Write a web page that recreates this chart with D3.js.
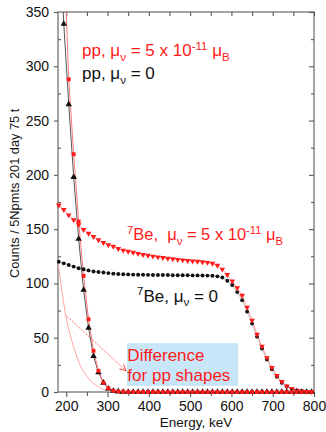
<!DOCTYPE html>
<html>
<head>
<meta charset="utf-8">
<script src="https://cdn.jsdelivr.net/npm/d3@7"></script>
<style>
  html, body { margin: 0; padding: 0; background: #fff; }
  svg { display: block; font-family: "Liberation Sans", Arial, Helvetica, sans-serif; }
</style>
</head>
<body>
<div id="chart"></div>
<script>
// energy bins, keV
const energy = [182, 194, 206, 218, 230, 242, 254, 266, 278, 290, 302, 314, 326, 338, 350, 362, 374, 386, 398, 410,
  422, 434, 446, 458, 470, 482, 494, 506, 518, 530, 542, 554, 566, 578, 590, 602, 614, 626, 638, 650,
  662, 674, 686, 698, 710, 722, 734, 746, 758, 770, 782, 794];

// pp, mu = 5e-11 (red squares)
const ppMag = [520, 410, 288, 219, 157, 107, 67, 38, 19.5, 8.5, 3.5, 1.2, 0.5, 0.2, 0, 0, 0, 0, 0, 0,
  0, 0, 0, 0, 0, 0, 0, 0, 0, 0, 0, 0, 0, 0, 0, 0, 0, 0, 0, 0,
  0, 0, 0, 0, 0, 0, 0, 0, 0, 0, 0, 0];
// pp, mu = 0 (black triangles)
const ppZero = [450, 339, 265, 198, 141, 94, 59, 33, 18, 8.5, 3, 1, 0.4, 0.1, 0, 0, 0, 0, 0, 0,
  0, 0, 0, 0, 0, 0, 0, 0, 0, 0, 0, 0, 0, 0, 0, 0, 0, 0, 0, 0,
  0, 0, 0, 0, 0, 0, 0, 0, 0, 0, 0, 0];
// 7Be, mu = 5e-11 (red down triangles)
const beMag = [172, 168, 163, 158.5, 154, 149.5, 146, 143, 140, 137.5, 135.5, 134, 132, 130.5, 129.5, 128.5, 127.5, 126.5, 125.8, 125,
  124.3, 123.7, 123, 122.5, 122, 121.5, 121, 120.6, 120.2, 119.8, 119.2, 118.5, 116.5, 113, 108, 102, 96, 89, 78, 66,
  53, 42, 31.5, 22.5, 15, 9.5, 5.5, 3, 1.5, 0.8, 0.4, 0.2];
// 7Be, mu = 0 (black dots)
const beZero = [120, 118.5, 117, 115.5, 114, 113, 112, 111, 110.5, 110, 109.5, 109, 108.7, 108.5, 108.3, 108.1, 108, 108, 107.9, 107.8,
  107.8, 107.7, 107.7, 107.6, 107.6, 107.5, 107.5, 107.4, 107.4, 107.3, 107.2, 107, 106.5, 105.5, 102.5, 98.5, 92, 84.5, 74, 63,
  51, 40, 30, 21, 14, 8.5, 5, 2.8, 1.5, 0.7, 0.3, 0.1];

// difference curve for pp shapes (thin pink line)
const diffEnergy = [180, 190, 200, 210, 220, 230, 240, 250, 260, 270, 280, 290, 300, 310, 320];
const diffValue = [120, 92, 68, 52, 39, 28, 20, 14.5, 10, 6.8, 4.3, 2.5, 1.2, 0.4, 0];

const xMajor = [200, 300, 400, 500, 600, 700, 800];
const xMinor = [250, 350, 450, 550, 650, 750];
const yMajor = [0, 50, 100, 150, 200, 250, 300, 350];
const yMinor = [25, 75, 125, 175, 225, 275, 325];

const W = 326, H = 432;
const x = d3.scaleLinear().domain([180, 800]).range([58, 314]);
const y = d3.scaleLinear().domain([0, 350]).range([392, 12]);
const RED = "#ff1a1a";

const svg = d3.select("#chart").append("svg").attr("width", W).attr("height", H);

svg.append("defs").append("clipPath").attr("id", "plot")
  .append("rect").attr("x", 58).attr("y", 12).attr("width", 256).attr("height", 380);

// annotation box behind data
svg.append("rect")
  .attr("x", x(347)).attr("y", y(45))
  .attr("width", x(616) - x(347)).attr("height", y(5.5) - y(45))
  .attr("fill", "#c7e7f8");

// frame + axes
const axisColor = "#5a5a5a";
svg.append("rect").attr("x", 58).attr("y", 12).attr("width", 256).attr("height", 380)
  .attr("fill", "none").attr("stroke", axisColor).attr("stroke-width", 1.1);

svg.append("g").attr("transform", `translate(0,${y(0)})`)
  .call(d3.axisBottom(x).tickValues(xMajor).tickSize(5).tickPadding(4).tickFormat(d3.format("d")));
svg.append("g").attr("transform", `translate(0,${y(0)})`)
  .call(d3.axisBottom(x).tickValues(xMinor).tickSize(4).tickFormat(""));
svg.append("g").attr("transform", `translate(${x(180)},0)`)
  .call(d3.axisLeft(y).tickValues(yMajor).tickSize(4).tickPadding(5).tickFormat(d3.format("d")));
svg.append("g").attr("transform", `translate(${x(180)},0)`)
  .call(d3.axisRight(y).tickValues(yMinor).tickSize(3).tickFormat(""));
svg.append("g").attr("transform", `translate(0,${y(350)})`)
  .call(d3.axisBottom(x).tickValues(xMajor.concat(xMinor)).tickSize(4).tickFormat(""));
svg.append("g").attr("transform", `translate(${x(800)},0)`)
  .call(d3.axisLeft(y).tickValues(yMajor).tickSize(5).tickFormat(""));
svg.append("g").attr("transform", `translate(${x(800)},0)`)
  .call(d3.axisLeft(y).tickValues(yMinor).tickSize(3).tickFormat(""));

svg.selectAll(".domain").remove();
svg.selectAll(".tick line").attr("stroke", axisColor).attr("stroke-width", 1.1);
svg.selectAll(".tick text").attr("fill", "#111").attr("font-size", 14)
  .attr("font-family", '"Liberation Sans", Arial, sans-serif');

// axis titles
svg.append("text").attr("x", x(514)).attr("y", 427).attr("text-anchor", "middle")
  .attr("font-size", 13.5).attr("fill", "#111").text("Energy, keV");
svg.append("text").attr("transform", `translate(18.5,${y(183)}) rotate(-90)`).attr("text-anchor", "middle")
  .attr("font-size", 12.8).attr("fill", "#111").text("Counts / 5Npmts 201 day 75 t");

// data
const plot = svg.append("g").attr("clip-path", "url(#plot)");

plot.append("path").datum(diffValue.map((v, i) => [diffEnergy[i], v]))
  .attr("fill", "none").attr("stroke", "#ff9a9a").attr("stroke-width", 0.9)
  .attr("d", d3.line().x(d => x(d[0])).y(d => y(d[1])).curve(d3.curveMonotoneX));

const series = [
  { vals: beZero, line: "#9a9a9a", lw: 0.6, sym: d3.symbolCircle, size: 12, fill: "#111", rot: 0 },
  { vals: beMag, line: "#ff8c8c", lw: 0.8, sym: d3.symbolTriangle, size: 14, fill: RED, rot: 180 },
  { vals: ppZero, line: "#555", lw: 1, sym: d3.symbolTriangle, size: 18, fill: "#111", rot: 0 },
  { vals: ppMag, line: "#ff7a7a", lw: 1, sym: d3.symbolSquare, size: 15, fill: RED, rot: 0 }
];

series.forEach(s => {
  const pts = s.vals.map((v, i) => [energy[i], v]);
  plot.append("path").datum(pts)
    .attr("fill", "none").attr("stroke", s.line).attr("stroke-width", s.lw)
    .attr("d", d3.line().x(d => x(d[0])).y(d => y(d[1])));
});
series.forEach(s => {
  const pts = s.vals.map((v, i) => [energy[i], v]).filter(d => d[1] <= 350);
  svg.append("g").selectAll("path").data(pts).join("path")
    .attr("transform", d => `translate(${x(d[0])},${y(d[1])}) rotate(${s.rot})`)
    .attr("d", d3.symbol(s.sym, s.size))
    .attr("fill", s.fill);
});

// arrow to the box
const ax0 = x(201), ay0 = y(70), ax1 = x(345), ay1 = y(19.5);
svg.append("line").attr("x1", ax0).attr("y1", ay0).attr("x2", ax1).attr("y2", ay1)
  .attr("stroke", RED).attr("stroke-width", 0.8).attr("stroke-dasharray", "1.2,1.2");
const ang = Math.atan2(ay1 - ay0, ax1 - ax0);
[-0.45, 0.45].forEach(a => {
  svg.append("line").attr("x1", ax1).attr("y1", ay1)
    .attr("x2", ax1 - 7 * Math.cos(ang + a)).attr("y2", ay1 - 7 * Math.sin(ang + a))
    .attr("stroke", RED).attr("stroke-width", 0.8);
});

// rich text helper
function rich(px, py, parts, color, size) {
  const t = svg.append("text").attr("x", px).attr("y", py).attr("fill", color).attr("font-size", size)
    .style("white-space", "pre");
  let shift = 0;
  parts.forEach(p => {
    const [str, kind] = p;
    let target = 0;
    if (kind === "sub") target = size * 0.28;
    if (kind === "sup") target = -size * 0.38;
    const ts = t.append("tspan").attr("dy", target - shift).text(str);
    if (kind) ts.attr("font-size", size * 0.68);
    shift = target;
  });
  return t;
}

rich(82, 56, [["pp, μ"], ["ν", "sub"], [" = 5 x 10"], ["-11", "sup"], [" μ"], ["B", "sub"]], RED, 17);
rich(82, 79, [["pp, μ"], ["ν", "sub"], [" = 0"]], "#111", 17);
rich(127, 240, [["7", "sup"], ["Be,  μ"], ["ν", "sub"], [" = 5 x 10"], ["-11", "sup"], [" μ"], ["B", "sub"]], RED, 16.5);
rich(137, 301.5, [["7", "sup"], ["Be, μ"], ["ν", "sub"], [" = 0"]], "#111", 17);

svg.append("text").attr("x", x(348)).attr("y", 361).attr("fill", RED).attr("font-size", 17).text("Difference");
svg.append("text").attr("x", x(348)).attr("y", 381).attr("fill", RED).attr("font-size", 17).text("for pp shapes");
</script>
</body>
</html>
